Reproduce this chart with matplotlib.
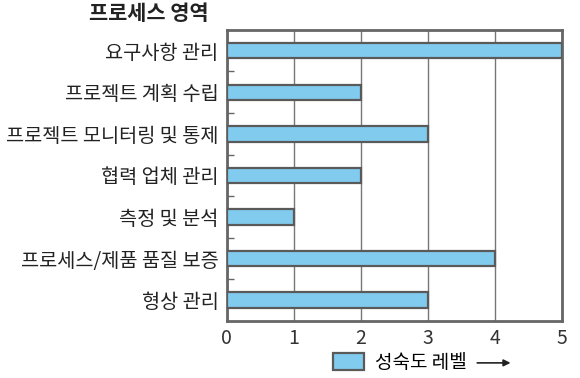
import matplotlib.pyplot as plt
from matplotlib.patches import Patch

plt.rcParams['font.family'] = ['Noto Sans CJK KR', 'DejaVu Sans']

# 프로세스 영역별 성숙도 레벨
areas = ['요구사항 관리', '프로젝트 계획 수립', '프로젝트 모니터링 및 통제',
         '협력 업체 관리', '측정 및 분석', '프로세스/제품 품질 보증', '형상 관리']
levels = [5, 2, 3, 2, 1, 4, 3]
x_ticks = [0, 1, 2, 3, 4, 5]

bar_color = '#80cbee'
edge_color = '#5a5a5a'

fig = plt.figure(figsize=(5.8, 3.78), dpi=100)
ax = fig.add_axes([0.391, 0.151, 0.578, 0.770])

ypos = list(range(len(areas)))
ax.barh(ypos, levels, height=0.37, color=bar_color, edgecolor=edge_color,
        linewidth=1.6, zorder=3)

ax.set_xlim(0, 5)
ax.set_ylim(len(areas) - 0.5, -0.5)
ax.set_xticks(x_ticks)
ax.set_xticklabels([str(t) for t in x_ticks], fontsize=14, color='#333333',
                   fontweight='light')
ax.set_yticks(ypos)
ax.set_yticklabels(areas, fontsize=14.2, color='#222222', fontweight='light')
ax.set_yticks([i + 0.5 for i in range(len(areas) - 1)], minor=True)
ax.tick_params(axis='y', which='major', length=0, pad=6)
ax.tick_params(axis='y', which='minor', direction='in', length=5,
               width=1, color='#666666')
ax.tick_params(axis='x', length=0, pad=5)
ax.grid(axis='x', color='#777777', linewidth=1, zorder=0)
for s in ax.spines.values():
    s.set_color('#666666')
    s.set_linewidth(2)

fig.text(0.257, 0.963, '프로세스 영역', fontsize=15, fontweight='bold',
         ha='center', va='center', color='#222222')

leg = fig.legend(handles=[Patch(facecolor=bar_color, edgecolor=edge_color, linewidth=1.6)],
                 labels=['성숙도 레벨'], loc='center', bbox_to_anchor=(0.69, 0.04),
                 frameon=False, handlelength=1.6, handleheight=1.0,
                 handletextpad=0.6, borderpad=0,
                 prop={'size': 13.7, 'weight': 'light'})
ax.annotate('', xy=(0.885, 0.04), xytext=(0.818, 0.04), xycoords='figure fraction',
            arrowprops=dict(arrowstyle='-|>', color='#222222', lw=1.2,
                            mutation_scale=10), annotation_clip=False)

fig.savefig('out.png', dpi=100)
